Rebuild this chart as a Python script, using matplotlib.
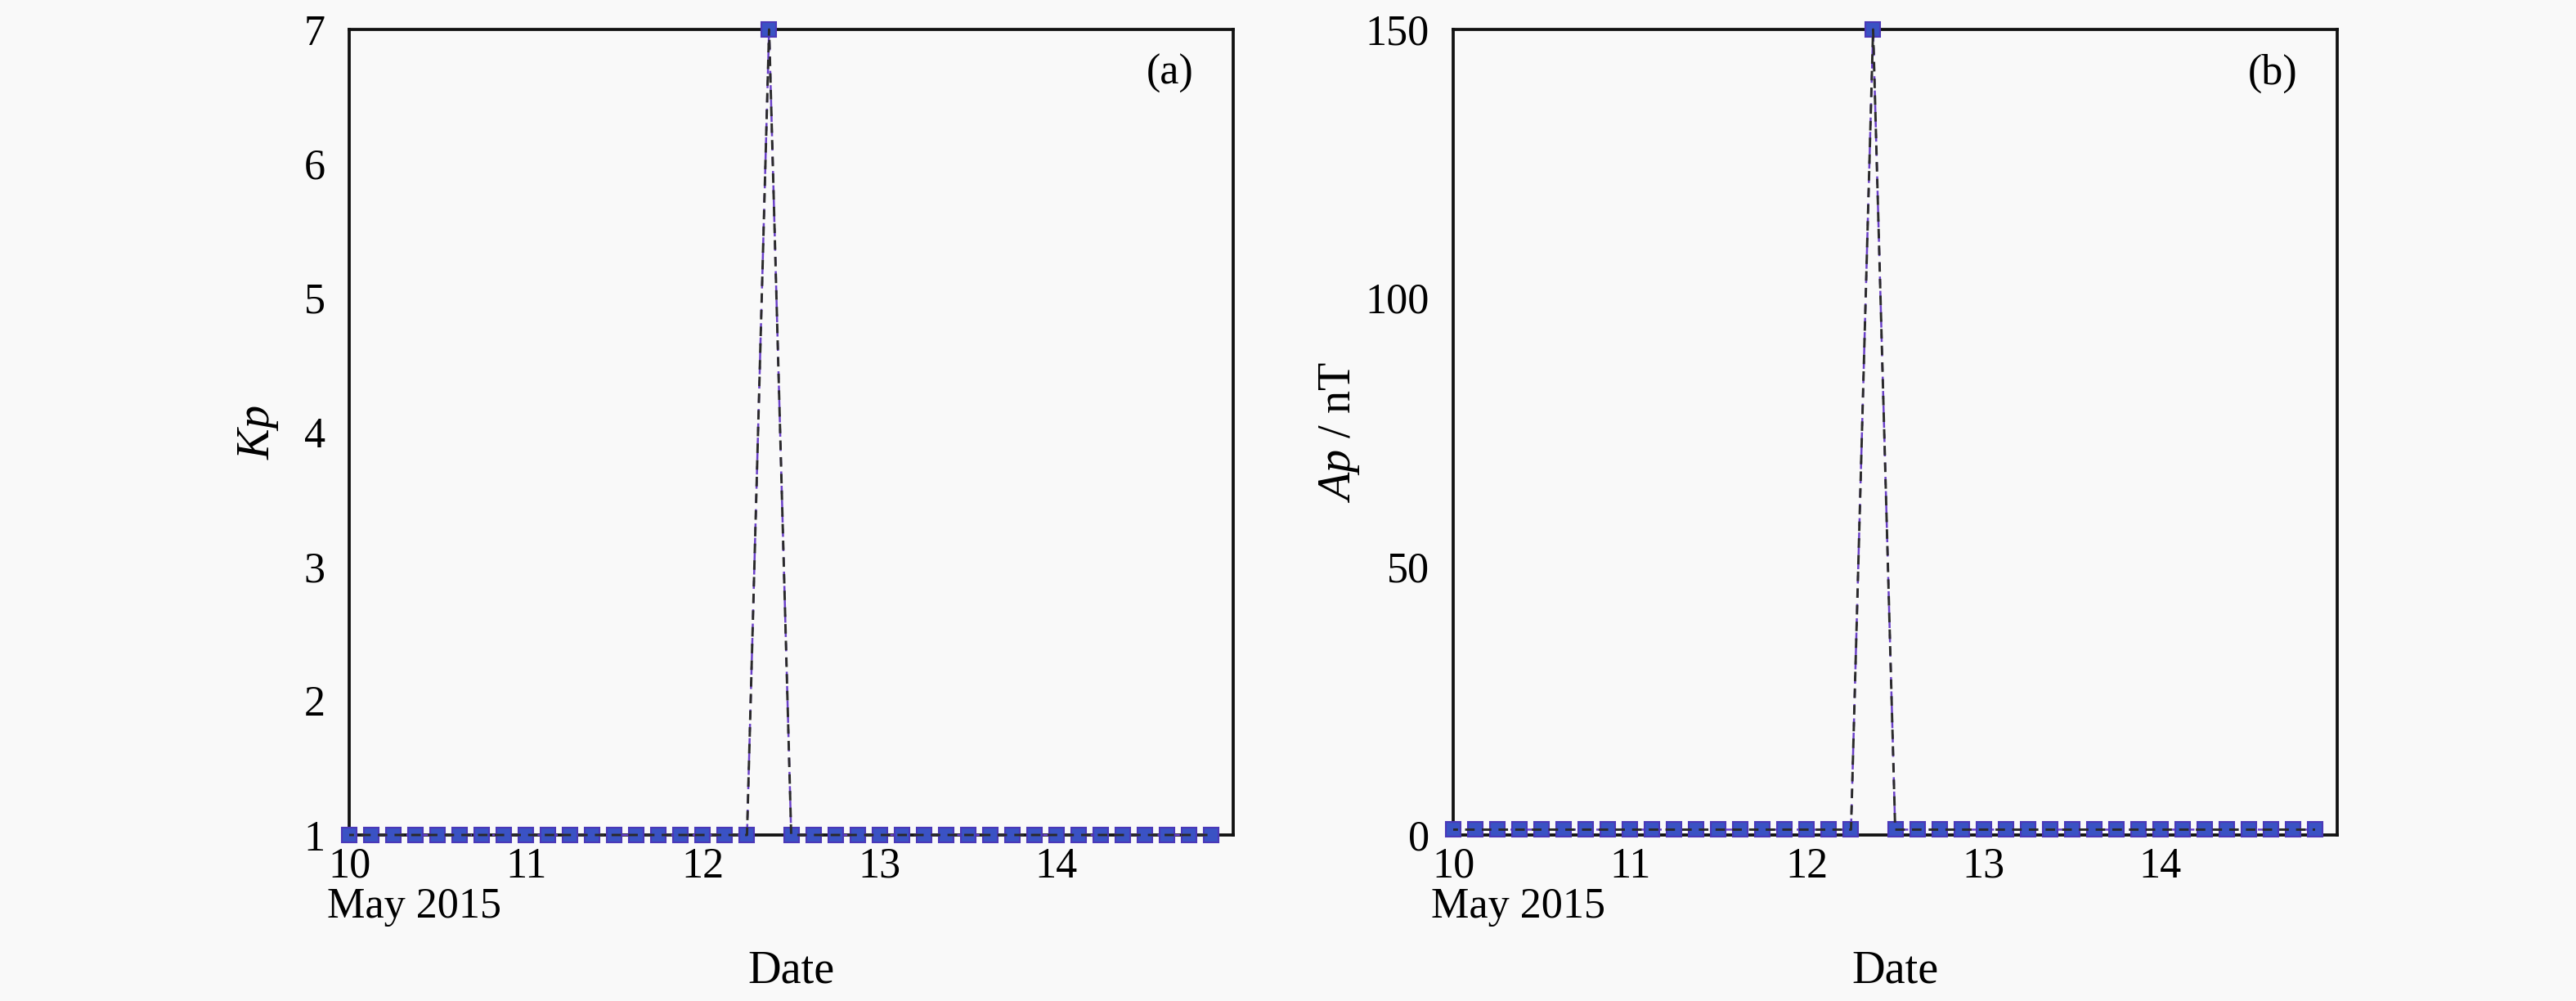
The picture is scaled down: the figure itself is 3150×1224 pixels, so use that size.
import matplotlib
matplotlib.use("Agg")
import matplotlib.pyplot as plt
import pandas as pd

# ---- data ----
start_time = "2015-05-10 00:00"
n_points = 40
kp_values = [1, 1, 1, 1, 1, 1, 1, 1,
             1, 1, 1, 1, 1, 1, 1, 1,
             1, 1, 1, 7, 1, 1, 1, 1,
             1, 1, 1, 1, 1, 1, 1, 1,
             1, 1, 1, 1, 1, 1, 1, 1]
ap_values = [1, 1, 1, 1, 1, 1, 1, 1,
             1, 1, 1, 1, 1, 1, 1, 1,
             1, 1, 1, 150, 1, 1, 1, 1,
             1, 1, 1, 1, 1, 1, 1, 1,
             1, 1, 1, 1, 1, 1, 1, 1]
x_tick_days = ["2015-05-10", "2015-05-11", "2015-05-12", "2015-05-13", "2015-05-14"]
x_tick_labels = ["10", "11", "12", "13", "14"]
kp_ticks = [1, 2, 3, 4, 5, 6, 7]
ap_ticks = [0, 50, 100, 150]

times = pd.date_range(start_time, periods=n_points, freq="3h")

plt.rcParams["font.family"] = ["Liberation Serif", "DejaVu Serif"]
plt.rcParams["mathtext.fontset"] = "custom"
plt.rcParams["mathtext.it"] = "Liberation Serif:italic"
plt.rcParams["mathtext.rm"] = "Liberation Serif"

bg = "#f9f9f9"
fig = plt.figure(figsize=(10.5, 4.08), dpi=300, facecolor=bg)

W = 1081 / 3150
H = 985 / 1224
ax1 = fig.add_axes([427 / 3150, 203 / 1224, W, H])
ax2 = fig.add_axes([1777 / 3150, 203 / 1224, W, H])

def draw(ax, vals, ylim, yticks, ylabel, tag, ylab_x):
    ax.set_facecolor(bg)
    # underlying coloured series (overlapping)
    ax.plot(times, vals, color="#6a40c8", lw=0.6, zorder=3, clip_on=False,
            ls=(0, (4, 3)))
    ax.plot(times, vals, ls="none", marker="s", ms=4.5, mfc="#3a52c4",
            mec="#4a38b8", mew=0.5, zorder=4, clip_on=False)
    ax.plot(times, vals, color="#2a2a2a", lw=0.7, ls=(2, (4, 3)), zorder=5,
            clip_on=False)
    ax.set_xlim(pd.Timestamp("2015-05-10"), pd.Timestamp("2015-05-15"))
    ax.set_ylim(*ylim)
    ax.set_xticks(pd.to_datetime(x_tick_days))
    ax.set_xticklabels(x_tick_labels)
    ax.set_yticks(yticks)
    ax.tick_params(length=0, labelsize=12.5)
    ax.tick_params(axis="y", pad=7)
    ax.tick_params(axis="x", pad=3.5)
    for s in ax.spines.values():
        s.set_linewidth(0.9)
        s.set_color("#111111")
    ax.set_ylabel(ylabel, fontsize=13.5)
    ax.yaxis.set_label_coords(ylab_x, 0.5)
    ax.set_xlabel("Date", fontsize=13.5)
    ax.xaxis.set_label_coords(0.5, -0.143)
    ax.text(-0.025, -0.065, "May 2015", transform=ax.transAxes, ha="left",
            va="top", fontsize=12.5)
    ax.text(0.955, 0.945, tag, transform=ax.transAxes, ha="right",
            va="center", fontsize=12.5)

draw(ax1, kp_values, (1, 7), kp_ticks, r"$Kp$", "(a)", -0.078)
draw(ax2, ap_values, (0, 150), ap_ticks, r"$Ap$ / nT", "(b)", -0.104)

fig.savefig("out.png", dpi=300, facecolor=bg)
